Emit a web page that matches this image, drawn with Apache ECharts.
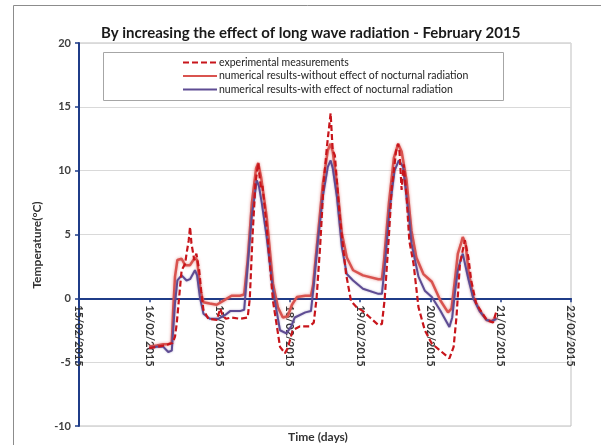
<!DOCTYPE html>
<html><head><meta charset="utf-8">
<script src="https://cdn.jsdelivr.net/npm/echarts@6/dist/echarts.min.js"></script>
<style>html,body{margin:0;padding:0;background:#fff}#c{width:601px;height:445px}</style>
</head><body><div id="c"></div>
<script>
// time in days of February 2015 (e.g. 16.5 = 16/02 12:00), temperatures in °C
var expTime = [16.0,16.105,16.2,16.27,16.33,16.366,16.39,16.43,16.46,16.51,16.53,16.56,16.58,16.60,16.64,16.67,16.71,16.74,16.77,16.84,16.96,17.01,17.04,17.09,17.17,17.29,17.40,17.43,17.47,17.51,17.55,17.57,17.59,17.61,17.67,17.76,17.86,17.93,17.97,18.04,18.14,18.28,18.34,18.38,18.43,18.48,18.53,18.56,18.58,18.60,18.61,18.64,18.71,18.80,18.87,18.95,19.04,19.14,19.26,19.31,19.35,19.41,19.45,19.47,19.51,19.54,19.56,19.59,19.62,19.66,19.70,19.76,19.83,19.92,20.02,20.14,20.27,20.33,20.37,20.42,20.49,20.54,20.58,20.65,20.80,20.89,20.94];
var expTemp = [-3.9,-3.8,-3.7,-3.6,-3.5,-3.0,-2.0,0.4,2.2,2.7,3.5,4.5,5.6,4.3,3.0,3.5,2.2,0.5,-0.9,-1.6,-1.7,-0.8,-1.3,-1.6,-1.5,-1.6,-1.5,0.0,5.0,9.0,10.6,9.5,8.6,8.8,5.6,-0.2,-3.8,-4.3,-3.9,-2.5,-2.2,-2.2,-1.9,0.0,4.0,9.0,12.0,13.5,14.5,12.5,11.6,11.2,6.4,1.9,-0.2,-0.7,-1.0,-1.5,-2.1,-2.0,0.0,5.0,8.7,9.5,11.5,12.1,11.5,8.5,10.5,8.0,4.5,2.7,-0.7,-2.5,-3.55,-4.1,-4.7,-3.8,-1.5,2.7,4.55,3.2,1.4,-0.4,-1.7,-1.9,-1.0];

var noRadTime = [16.0,16.105,16.2,16.27,16.32,16.34,16.366,16.40,16.46,16.51,16.58,16.65,16.68,16.73,16.77,16.86,16.96,17.08,17.17,17.29,17.35,17.40,17.46,17.52,17.55,17.59,17.67,17.72,17.76,17.83,17.90,17.97,18.03,18.10,18.22,18.30,18.33,18.40,18.47,18.54,18.58,18.61,18.67,18.74,18.81,18.90,19.04,19.26,19.31,19.34,19.41,19.48,19.54,19.59,19.66,19.73,19.80,19.90,20.02,20.14,20.25,20.30,20.35,20.39,20.43,20.46,20.50,20.54,20.61,20.70,20.80,20.87,20.94];
var noRadTemp = [-3.8,-3.7,-3.6,-3.6,-3.5,-0.9,1.7,3.0,3.1,2.6,2.6,3.2,3.0,0.6,-0.3,-0.4,-0.5,-0.1,0.2,0.2,0.3,3.0,7.5,10.2,10.6,9.5,6.4,3.5,1.15,-0.7,-1.5,-1.4,-0.5,0.1,0.2,0.2,1.0,5.0,9.0,11.6,12.1,11.5,9.0,5.1,3.2,2.2,1.8,1.5,1.5,3.0,7.5,11.0,12.1,11.5,9.25,5.3,3.2,1.9,1.3,-0.15,-1.1,-0.8,1.5,3.5,4.2,4.8,4.3,2.2,0.1,-0.95,-1.7,-1.8,-1.5];

var radTime = [16.0,16.105,16.2,16.27,16.32,16.366,16.40,16.46,16.53,16.58,16.65,16.68,16.72,16.77,16.86,16.98,17.08,17.15,17.29,17.35,17.40,17.46,17.53,17.56,17.60,17.67,17.76,17.86,17.95,18.02,18.07,18.22,18.30,18.34,18.40,18.47,18.54,18.58,18.61,18.67,18.74,18.81,18.90,19.04,19.26,19.31,19.35,19.42,19.49,19.55,19.61,19.66,19.70,19.73,19.83,19.92,20.02,20.14,20.27,20.31,20.35,20.39,20.43,20.46,20.50,20.54,20.61,20.70,20.80,20.87,20.94];
var radTemp = [-3.9,-3.8,-3.8,-4.2,-4.1,-0.4,1.4,1.8,1.4,1.5,2.2,1.8,0.1,-1.2,-1.6,-1.6,-1.3,-1.0,-1.0,-0.9,2.5,6.5,9.25,8.8,7.5,4.8,0.6,-2.5,-2.75,-2.2,-1.5,-1.1,-1.0,1.0,4.5,8.0,10.3,10.8,10.2,7.9,4.0,1.9,1.4,0.75,0.35,0.35,2.5,7.0,10.0,10.8,10.3,7.9,6.1,4.3,1.7,0.6,0.1,-0.95,-2.25,-1.5,0.5,2.2,3.0,3.5,2.5,1.5,0.0,-1.0,-1.7,-1.8,-1.6];

var seriesNames = ['experimental measurements','numerical results-without effect of nocturnal radiation','numerical results-with effect of nocturnal radiation'];
var xTicks = [15,16,17,18,19,20,21,22];
var yTicks = [-10,-5,0,5,10,15,20];

function pairs(t, v){ return t.map(function(x,i){ return [x, v[i]]; }); }
var navy = '#1F3C88';
var gridTop = 43, gridBottom = 19, H = 445;
var plotH = H - gridTop - gridBottom;
var yMin = yTicks[0], yMax = yTicks[yTicks.length-1];
// move the x axis (line, ticks and labels) up to the y = 0 level, as in the original
var zeroOffset = -plotH * (0 - yMin) / (yMax - yMin);

var chart = echarts.init(document.getElementById('c'), null, {renderer:'canvas'});
chart.setOption({
  animation:false,
  backgroundColor:'#fff',
  title:{ text:'By increasing the effect of long wave radiation - February 2015', left:96, top:21,
    textStyle:{fontFamily:'Lato', fontSize:15, fontWeight:'bold', color:'#1a1a1a'} },
  graphic:[
    {type:'rect', z:-10, shape:{x:13.5,y:5.5,width:640,height:500}, style:{fill:'none', stroke:'#8c8c8c', lineWidth:1}, silent:true},
    {type:'rect', z:1, shape:{x:103.5,y:52.5,width:400,height:48}, style:{fill:'#fff', stroke:'#a6a6a6', lineWidth:1}, silent:true},
    {type:'text', x:37, y:245, rotation:Math.PI/2, style:{text:'Temperature(°C)', fontFamily:'Lato', fontSize:12, fontWeight:'bold', fill:'#333', align:'center', verticalAlign:'middle'}},
    {type:'text', x:318, y:437, style:{text:'Time (days)', fontFamily:'Lato', fontSize:12, fontWeight:'bold', fill:'#333', align:'center', verticalAlign:'middle'}}
  ],
  legend:{ orient:'vertical', left:177, top:52, itemWidth:34, itemHeight:12, itemGap:2.5, selectedMode:false, z:5,
    itemStyle:{color:'transparent', borderWidth:0, opacity:0},
    textStyle:{fontFamily:'Lato', fontSize:10.5, color:'#222', padding:[0,0,0,-3]}, data:seriesNames },
  grid:{ left:79, right:30, top:gridTop, bottom:gridBottom, show:true, borderColor:'#bfbfbf', borderWidth:1, containLabel:false },
  xAxis:{ type:'value', min:xTicks[0], max:xTicks[xTicks.length-1], interval:1, offset:zeroOffset,
    axisLine:{show:true, onZero:false, lineStyle:{color:navy, width:2}},
    axisTick:{show:true, length:4, lineStyle:{color:navy, width:1.5}},
    axisLabel:{rotate:-90, margin:7, fontFamily:'Lato', fontSize:11, fontWeight:'bold', color:'#333',
      formatter:function(v){ return (v<10?'0':'')+v+'/02/2015'; }},
    splitLine:{show:false} },
  yAxis:{ type:'value', min:yMin, max:yMax, interval:5,
    axisLine:{show:true, onZero:false, lineStyle:{color:navy, width:2}},
    axisTick:{show:true, length:4, lineStyle:{color:navy, width:1.5}},
    axisLabel:{margin:8, fontFamily:'Lato', fontSize:11, fontWeight:'bold', color:'#404040'},
    splitLine:{show:true, lineStyle:{color:'#d9d9d9', width:1}} },
  series:[
    {name:seriesNames[0], type:'line', z:4, symbol:'none', data:pairs(expTime, expTemp),
      lineStyle:{color:'#C8151B', width:2.2, type:[6,3]}, itemStyle:{color:'#C8151B'}},
    {name:seriesNames[1], type:'line', z:2, symbol:'none', data:pairs(noRadTime, noRadTemp),
      lineStyle:{color:'#D9534F', width:2.5, shadowBlur:3, shadowColor:'rgba(217,83,79,0.6)'}, itemStyle:{color:'#D9534F'}},
    {name:seriesNames[2], type:'line', z:3, symbol:'none', data:pairs(radTime, radTemp),
      lineStyle:{color:'#5E4C93', width:2, shadowBlur:2, shadowColor:'rgba(94,76,147,0.5)'}, itemStyle:{color:'#5E4C93'}}
  ]
});
</script></body></html>
